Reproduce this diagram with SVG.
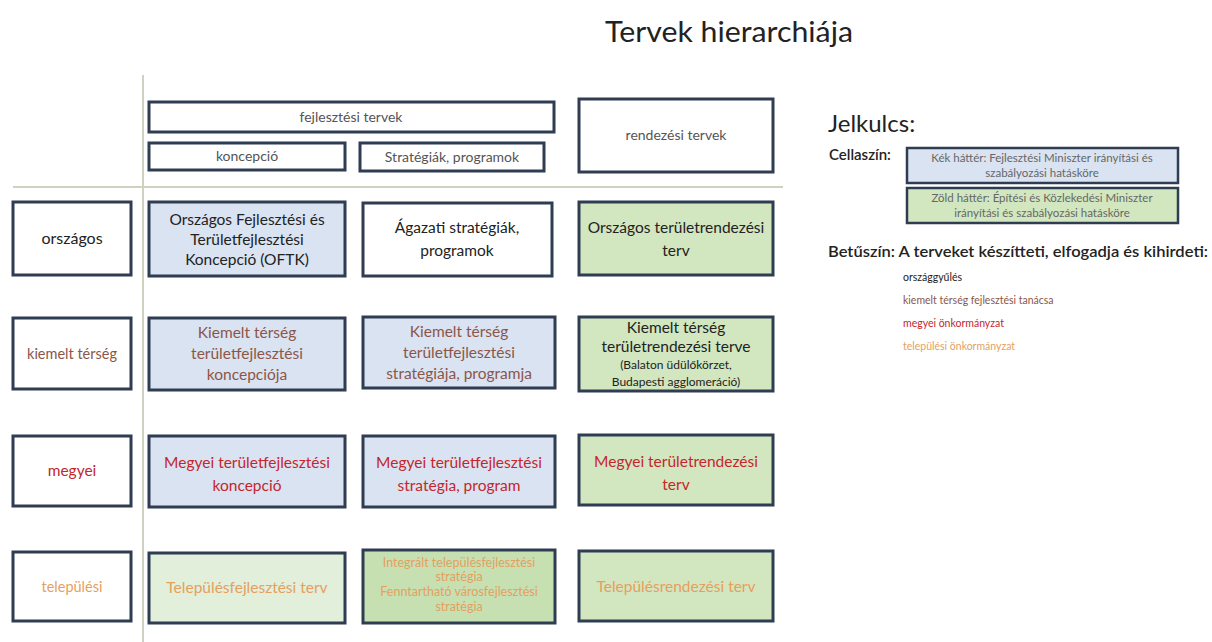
<svg xmlns="http://www.w3.org/2000/svg" width="1212" height="642" viewBox="0 0 1212 642">
<style>
text{font-family:Lato,"Open Sans","Liberation Sans",sans-serif;text-anchor:middle}
.box{stroke:#2e3d52;stroke-width:3}
.w{fill:#ffffff}
.b{fill:#dae3f1}
.g{fill:#d2e6c0}
.g2{fill:#c6e0b2}
.g3{fill:#e2efda}
.hd{font-size:14px;fill:#555555}
.c{font-size:15.5px}
.k{fill:#222222}
.br{fill:#8b5649}
.rd{fill:#c4262e}
.or{fill:#e59f5e}
.lg{font-size:11.5px;fill:#666666}
.li{font-size:10.5px;text-anchor:start}
.sm{font-size:12.5px}
.grid{stroke:#cfd2c0;stroke-width:2;fill:none}
</style>
<text x="729" y="42" textLength="248" lengthAdjust="spacingAndGlyphs" style="font-size:28px;fill:#222">Tervek hierarchiája</text>
<g id="connectors">
<line class="grid" x1="143" y1="75" x2="143" y2="642"/>
<line class="grid" x1="13" y1="187" x2="783" y2="187"/>
</g>
<g id="h-fejlesztesi"><rect class="box w" x="149" y="102" width="405" height="30"/><text class="hd" x="351" y="122">fejlesztési tervek</text></g>
<g id="h-koncepcio"><rect class="box w" x="149" y="143" width="196" height="27"/><text class="hd" x="247" y="161">koncepció</text></g>
<g id="h-strategiak"><rect class="box w" x="360" y="143" width="184" height="28"/><text class="hd" x="452" y="162">Stratégiák, programok</text></g>
<g id="h-rendezesi"><rect class="box w" x="579" y="99" width="194" height="73"/><text class="hd" x="676" y="140">rendezési tervek</text></g>

<g id="r-orszagos"><rect class="box w" x="13" y="202" width="118" height="73"/><text class="c k" x="72" y="244" style="font-size:16px">országos</text></g>
<g id="n-oftk"><rect class="box b" x="149" y="202" width="196" height="74"/><text class="c k" x="247" y="225">Országos Fejlesztési és</text><text class="c k" x="247" y="245">Területfejlesztési</text><text class="c k" x="247" y="265">Koncepció (OFTK)</text></g>
<g id="n-agazati"><rect class="box w" x="363" y="203" width="189" height="73"/><text class="c k" x="457" y="233">Ágazati stratégiák,</text><text class="c k" x="457" y="256">programok</text></g>
<g id="n-orsz-rend"><rect class="box g" x="579" y="202" width="194" height="73"/><text class="c k" x="676" y="233">Országos területrendezési</text><text class="c k" x="676" y="256">terv</text></g>

<g id="r-kiemelt"><rect class="box w" x="13" y="318" width="118" height="71"/><text class="c br" x="72" y="359" style="font-size:14.5px">kiemelt térség</text></g>
<g id="n-kiem-konc"><rect class="box b" x="149" y="318" width="196" height="72"/><text class="c br" x="247" y="338">Kiemelt térség</text><text class="c br" x="247" y="359">területfejlesztési</text><text class="c br" x="247" y="380">koncepciója</text></g>
<g id="n-kiem-strat"><rect class="box b" x="363" y="317" width="192" height="71"/><text class="c br" x="459" y="337">Kiemelt térség</text><text class="c br" x="459" y="358">területfejlesztési</text><text class="c br" x="459" y="379">stratégiája, programja</text></g>
<g id="n-kiem-rend"><rect class="box g" x="579" y="317" width="194" height="74"/><text class="c k" x="676" y="333">Kiemelt térség</text><text class="c k" x="676" y="352">területrendezési terve</text><text class="k" x="676" y="369" style="font-size:12px">(Balaton üdülőkörzet,</text><text class="k" x="676" y="386" style="font-size:12px">Budapesti agglomeráció)</text></g>

<g id="r-megyei"><rect class="box w" x="13" y="436" width="118" height="70"/><text class="c rd" x="72" y="476">megyei</text></g>
<g id="n-megy-konc"><rect class="box b" x="149" y="436" width="196" height="71"/><text class="c rd" x="247" y="468">Megyei területfejlesztési</text><text class="c rd" x="247" y="491">koncepció</text></g>
<g id="n-megy-strat"><rect class="box b" x="363" y="436" width="192" height="71"/><text class="c rd" x="459" y="468">Megyei területfejlesztési</text><text class="c rd" x="459" y="491">stratégia, program</text></g>
<g id="n-megy-rend"><rect class="box g" x="579" y="435" width="194" height="70"/><text class="c rd" x="676" y="467">Megyei területrendezési</text><text class="c rd" x="676" y="490">terv</text></g>

<g id="r-telepulesi"><rect class="box w" x="13" y="552" width="118" height="69"/><text class="c or" x="72" y="592" style="font-size:14.5px">települési</text></g>
<g id="n-tel-fejl"><rect class="box g3" x="149" y="553" width="196" height="70"/><text class="c or" x="247" y="593">Településfejlesztési terv</text></g>
<g id="n-tel-strat"><rect class="box g2" x="363" y="550" width="192" height="73"/><text class="or sm" x="459" y="567">Integrált településfejlesztési</text><text class="or sm" x="459" y="581">stratégia</text><text class="or sm" x="459" y="596">Fenntartható városfejlesztési</text><text class="or sm" x="459" y="611">stratégia</text></g>
<g id="n-tel-rend"><rect class="box g" x="579" y="551" width="194" height="70"/><text class="c or" x="676" y="592">Településrendezési terv</text></g>

<g id="legend">
<text x="828" y="132" style="font-size:24px;fill:#222;text-anchor:start">Jelkulcs:</text>
<text x="829" y="160" style="font-size:15px;font-weight:600;fill:#222;text-anchor:start">Cellaszín:</text>
<g id="lg-kek"><rect class="box b" x="907" y="148" width="271" height="35" style="stroke-width:2.5"/><text class="lg" x="1042" y="162">Kék háttér: Fejlesztési Miniszter irányítási és</text><text class="lg" x="1042" y="177">szabályozási hatásköre</text></g>
<g id="lg-zold"><rect class="box g" x="907" y="188" width="271" height="35" style="stroke-width:2.5"/><text class="lg" x="1042" y="202">Zöld háttér: Építési és Közlekedési Miniszter</text><text class="lg" x="1042" y="217">irányítási és szabályozási hatásköre</text></g>
<text x="828" y="257" textLength="380" lengthAdjust="spacingAndGlyphs" style="font-size:15.5px;font-weight:600;fill:#222;text-anchor:start">Betűszín: A terveket készítteti, elfogadja és kihirdeti:</text>
<text class="li k" x="903" y="281">országgyűlés</text>
<text class="li br" x="903" y="304">kiemelt térség fejlesztési tanácsa</text>
<text class="li rd" x="903" y="327">megyei önkormányzat</text>
<text class="li or" x="903" y="350">települési önkormányzat</text>
</g>
</svg>
